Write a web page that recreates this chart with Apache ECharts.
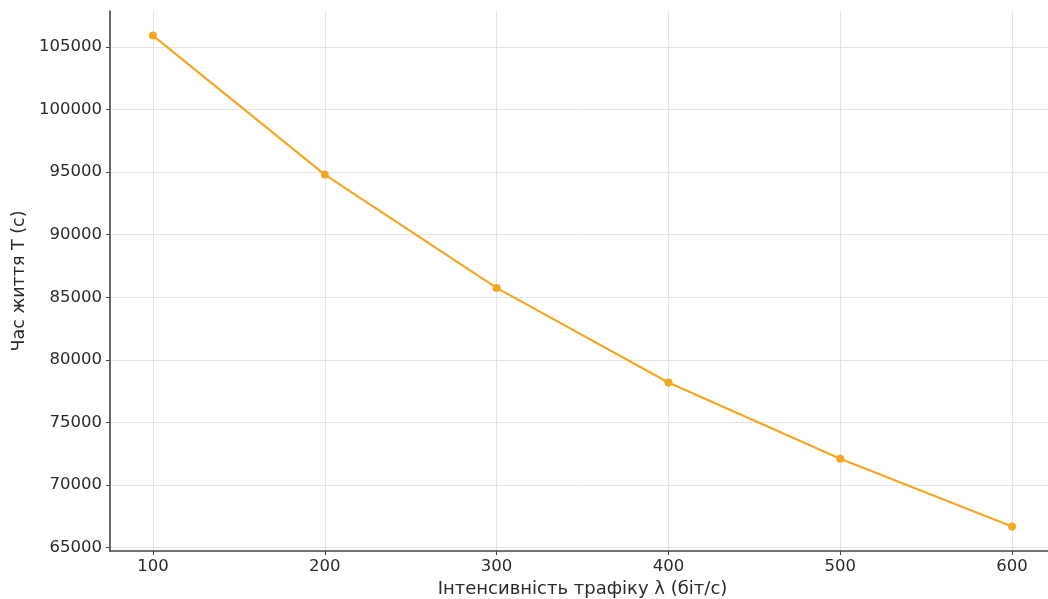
<!DOCTYPE html>
<html>
<head>
<meta charset="utf-8">
<script src="https://cdn.jsdelivr.net/npm/echarts@6/dist/echarts.min.js"></script>
<style>
html,body{margin:0;padding:0;background:#fff;}
#chart{width:1048px;height:599px;}
</style>
</head>
<body>
<div id="chart"></div>
<script>
const lambdaValues = [100, 200, 300, 400, 500, 600];
const lifetimeValues = [105900, 94800, 85750, 78200, 72100, 66700];
const xTicks = [100, 200, 300, 400, 500, 600];
const yTicks = [65000, 70000, 75000, 80000, 85000, 90000, 95000, 100000, 105000];
const xTitle = 'Інтенсивність трафіку λ (біт/с)';
const yTitle = 'Час життя T (с)';

const chart = echarts.init(document.getElementById('chart'), null, {renderer: 'canvas'});
const font = 'DejaVu Sans';
const textColor = '#2b2b2b';
const option = {
  animation: false,
  backgroundColor: '#ffffff',
  grid: {left: 110, top: 11, width: 945, height: 540, containLabel: false, outerBoundsMode: 'none'},
  xAxis: {
    type: 'value', min: 75, max: 625,
    name: xTitle, nameLocation: 'middle', nameGap: 28,
    nameTextStyle: {fontFamily: font, fontSize: 18, color: textColor},
    axisLine: {show: true, onZero: false, lineStyle: {color: '#444444', width: 1.6}},
    axisTick: {show: true, length: 4, customValues: xTicks, lineStyle: {color: '#444444'}},
    axisLabel: {customValues: xTicks, fontFamily: font, fontSize: 16.5, color: textColor, margin: 7,
      formatter: v => String(v)},
    splitLine: {show: true, lineStyle: {color: '#e4e4e4', width: 1}}
  },
  yAxis: {
    type: 'value', min: 64740, max: 107860,
    name: yTitle, nameLocation: 'middle', nameGap: 82, nameRotate: 90,
    nameTextStyle: {fontFamily: font, fontSize: 17.5, color: textColor},
    axisLine: {show: true, onZero: false, lineStyle: {color: '#444444', width: 1.6}},
    axisTick: {show: true, length: 4, customValues: yTicks, lineStyle: {color: '#444444'}},
    axisLabel: {customValues: yTicks, fontFamily: font, fontSize: 16.5, color: textColor, margin: 8,
      formatter: v => String(v)},
    splitLine: {show: true, lineStyle: {color: '#e4e4e4', width: 1}}
  },
  series: [{
    type: 'line',
    data: lambdaValues.map((x, i) => [x, lifetimeValues[i]]),
    symbol: 'circle', symbolSize: 8,
    lineStyle: {color: '#F5A623', width: 2.2},
    itemStyle: {color: '#F5A623'}
  }]
};
chart.setOption(option);
</script>
</body>
</html>
